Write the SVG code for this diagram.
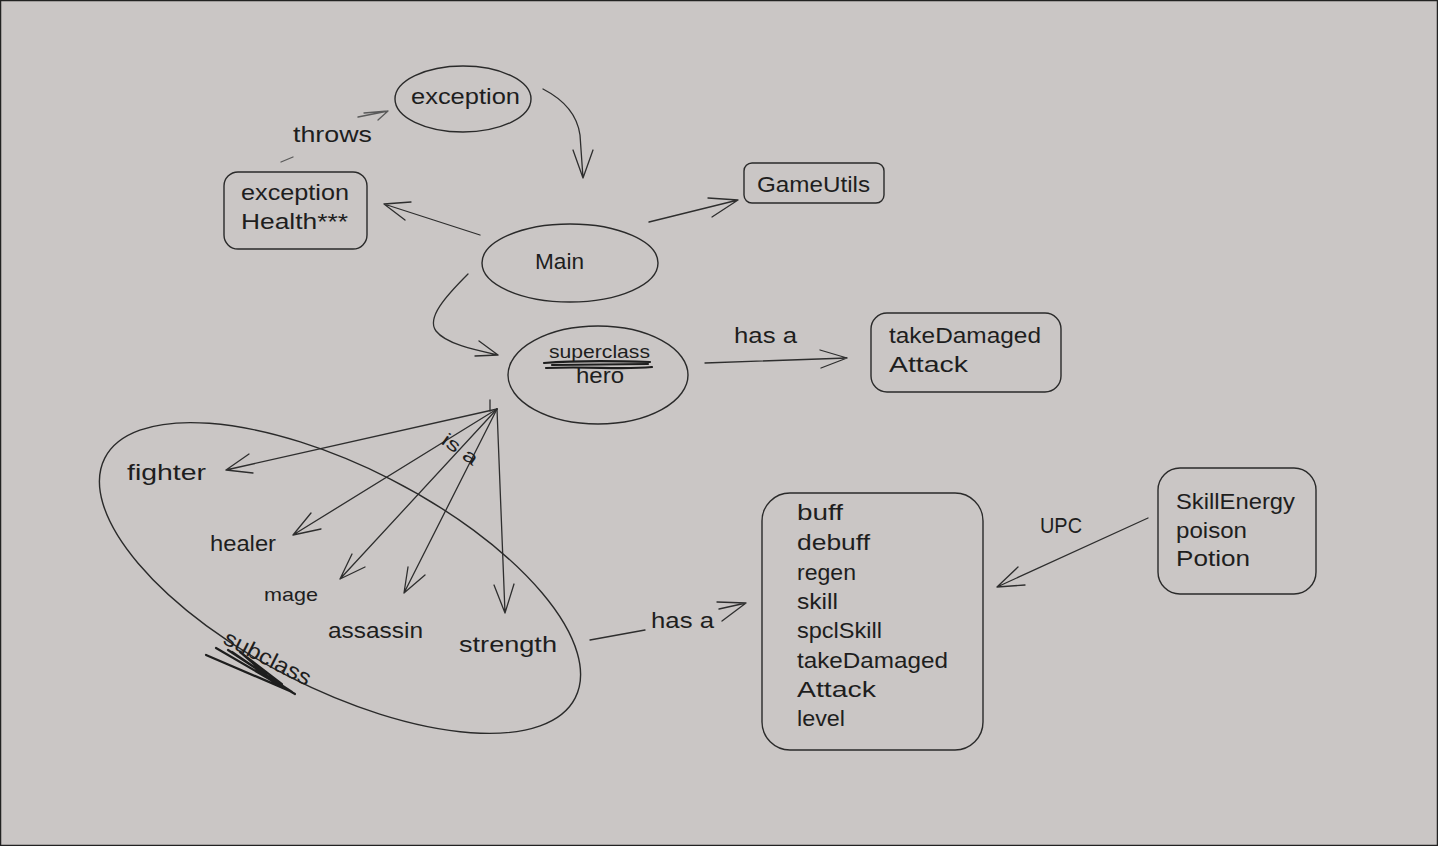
<svg xmlns="http://www.w3.org/2000/svg" width="1438" height="846" viewBox="0 0 1438 846">
  <style>
    .t { font-family: "Liberation Sans", Arial, sans-serif; font-size: 22px; fill: #1e1e1e; }
    .ts { font-size: 19px; }
    .shape { fill: none; stroke: #2a2a2a; stroke-width: 1.4; stroke-linecap: round; stroke-linejoin: round; }
    .edge { fill: none; stroke: #2e2e2e; stroke-width: 1.3; stroke-linecap: round; stroke-linejoin: round; }
    .faint { stroke: #5a5a5a; }
    .scribble { fill: none; stroke: #1e1e1e; stroke-width: 2.2; stroke-linecap: round; stroke-linejoin: round; }
  </style>

  <!-- canvas -->
  <rect x="0.5" y="0.5" width="1437" height="845" fill="#cac6c5" stroke="#222" stroke-width="1.5"/>

  <!-- connectors -->
  <g id="connectors">
    <!-- exception Health -> exception (throws) -->
    <path class="edge faint" d="M281,162 L293,157"/>
    <path class="edge faint" d="M358,117 L388,111 M388,111 L364,113 M388,111 L378,120"/>
    <!-- exception -> Main -->
    <path class="edge" d="M543,89 Q576,106 580,135 L583,178 M583,178 L573,150 M583,178 L593,150"/>
    <!-- Main -> exception Health -->
    <path class="edge" d="M480,235 L384,204 M384,204 L411,202 M384,204 L405,220"/>
    <!-- Main -> GameUtils -->
    <path class="edge" d="M649,222 L738,200 M738,200 L708,198 M738,200 L712,217"/>
    <!-- Main -> hero -->
    <path class="edge" d="M468,274 C446,296 426,318 436,331 C446,344 475,350 498,355 M498,355 L479,341 M498,355 L475,356"/>
    <!-- hero -> takeDamaged/Attack -->
    <path class="edge" d="M705,363 L847,358 M847,358 L820,350 M847,358 L821,368"/>
    <!-- hero -> subclasses (is a) -->
    <path class="edge" d="M490,400 L490,411"/>
    <path class="edge" d="M497,409 L226,470 M226,470 L249,454 M226,470 L253,473"/>
    <path class="edge" d="M497,409 L293,535 M293,535 L311,513 M293,535 L321,529"/>
    <path class="edge" d="M497,409 L340,579 M340,579 L352,554 M340,579 L365,567"/>
    <path class="edge" d="M497,409 L404,593 M404,593 L408,567 M404,593 L425,575"/>
    <path class="edge" d="M497,409 L505,613 M505,613 L494,585 M505,613 L514,584"/>
    <!-- subclass group -> stats (has a) -->
    <path class="edge" d="M590,640 L645,630"/>
    <path class="edge" d="M719,609 L746,603 M746,603 L717,602 M746,603 L722,621"/>
    <!-- items -> stats (UPC) -->
    <path class="edge" d="M1148,518 L997,587 M997,587 L1018,567 M997,587 L1025,585"/>
  </g>

  <!-- edge labels -->
  <text class="t" x="293" y="142" textLength="79" lengthAdjust="spacingAndGlyphs">throws</text>
  <text class="t" x="734" y="343" textLength="63" lengthAdjust="spacingAndGlyphs">has a</text>
  <text class="t" x="651" y="628" textLength="63" lengthAdjust="spacingAndGlyphs">has a</text>
  <text class="t" x="1040" y="533" textLength="42" lengthAdjust="spacingAndGlyphs">UPC</text>
  <text class="t ts" transform="translate(440,443) rotate(35)" textLength="40" lengthAdjust="spacingAndGlyphs">is a</text>

  <g id="node-exception">
    <ellipse class="shape" cx="463" cy="99" rx="68" ry="33"/>
    <text class="t" x="411" y="104" textLength="109" lengthAdjust="spacingAndGlyphs">exception</text>
  </g>

  <g id="node-exception-health">
    <rect class="shape" x="224" y="172" width="143" height="77" rx="14"/>
    <text class="t" x="241" y="200" textLength="108" lengthAdjust="spacingAndGlyphs">exception</text>
    <text class="t" x="241" y="229" textLength="107" lengthAdjust="spacingAndGlyphs">Health***</text>
  </g>

  <g id="node-gameutils">
    <rect class="shape" x="744" y="163" width="140" height="40" rx="8"/>
    <text class="t" x="757" y="192" textLength="113" lengthAdjust="spacingAndGlyphs">GameUtils</text>
  </g>

  <g id="node-main">
    <ellipse class="shape" cx="570" cy="263" rx="88" ry="39"/>
    <text class="t" x="535" y="269" textLength="49" lengthAdjust="spacingAndGlyphs">Main</text>
  </g>

  <g id="node-hero">
    <ellipse class="shape" cx="598" cy="375" rx="90" ry="49"/>
    <text class="t ts" x="549" y="358" textLength="101" lengthAdjust="spacingAndGlyphs">superclass</text>
    <text class="t" x="576" y="383" textLength="48" lengthAdjust="spacingAndGlyphs">hero</text>
    <path class="scribble" d="M544,363 C580,360 620,361 650,362 M546,368 C590,366 620,370 652,367 M552,365 L648,364"/>
  </g>

  <g id="node-hero-actions">
    <rect class="shape" x="871" y="313" width="190" height="79" rx="16"/>
    <text class="t" x="889" y="343" textLength="152" lengthAdjust="spacingAndGlyphs">takeDamaged</text>
    <text class="t" x="889" y="372" textLength="79" lengthAdjust="spacingAndGlyphs">Attack</text>
  </g>

  <g id="node-subclasses">
    <ellipse class="shape" cx="340" cy="578" rx="264" ry="111" transform="rotate(27 340 578)"/>
    <text class="t" x="127" y="480" textLength="79" lengthAdjust="spacingAndGlyphs">fighter</text>
    <text class="t" x="210" y="551" textLength="66" lengthAdjust="spacingAndGlyphs">healer</text>
    <text class="t ts" x="264" y="601" textLength="54" lengthAdjust="spacingAndGlyphs">mage</text>
    <text class="t" x="328" y="638" textLength="95" lengthAdjust="spacingAndGlyphs">assassin</text>
    <text class="t" x="459" y="652" textLength="98" lengthAdjust="spacingAndGlyphs">strength</text>
    <text class="t" transform="translate(222,643) rotate(27)" textLength="95" lengthAdjust="spacingAndGlyphs">subclass</text>
    <path class="scribble" d="M228,650 L292,692 L206,655 L288,690 L216,648 L295,694 M232,652 L270,678 L240,652 L282,684"/>
  </g>

  <g id="node-stats">
    <rect class="shape" x="762" y="493" width="221" height="257" rx="28"/>
    <text class="t" x="797" y="520" textLength="46" lengthAdjust="spacingAndGlyphs">buff</text>
    <text class="t" x="797" y="550" textLength="73" lengthAdjust="spacingAndGlyphs">debuff</text>
    <text class="t" x="797" y="580" textLength="59" lengthAdjust="spacingAndGlyphs">regen</text>
    <text class="t" x="797" y="609" textLength="41" lengthAdjust="spacingAndGlyphs">skill</text>
    <text class="t" x="797" y="638" textLength="85" lengthAdjust="spacingAndGlyphs">spclSkill</text>
    <text class="t" x="797" y="668" textLength="151" lengthAdjust="spacingAndGlyphs">takeDamaged</text>
    <text class="t" x="797" y="697" textLength="79" lengthAdjust="spacingAndGlyphs">Attack</text>
    <text class="t" x="797" y="726" textLength="48" lengthAdjust="spacingAndGlyphs">level</text>
  </g>

  <g id="node-items">
    <rect class="shape" x="1158" y="468" width="158" height="126" rx="22"/>
    <text class="t" x="1176" y="509" textLength="119" lengthAdjust="spacingAndGlyphs">SkillEnergy</text>
    <text class="t" x="1176" y="538" textLength="71" lengthAdjust="spacingAndGlyphs">poison</text>
    <text class="t" x="1176" y="566" textLength="74" lengthAdjust="spacingAndGlyphs">Potion</text>
  </g>
</svg>
